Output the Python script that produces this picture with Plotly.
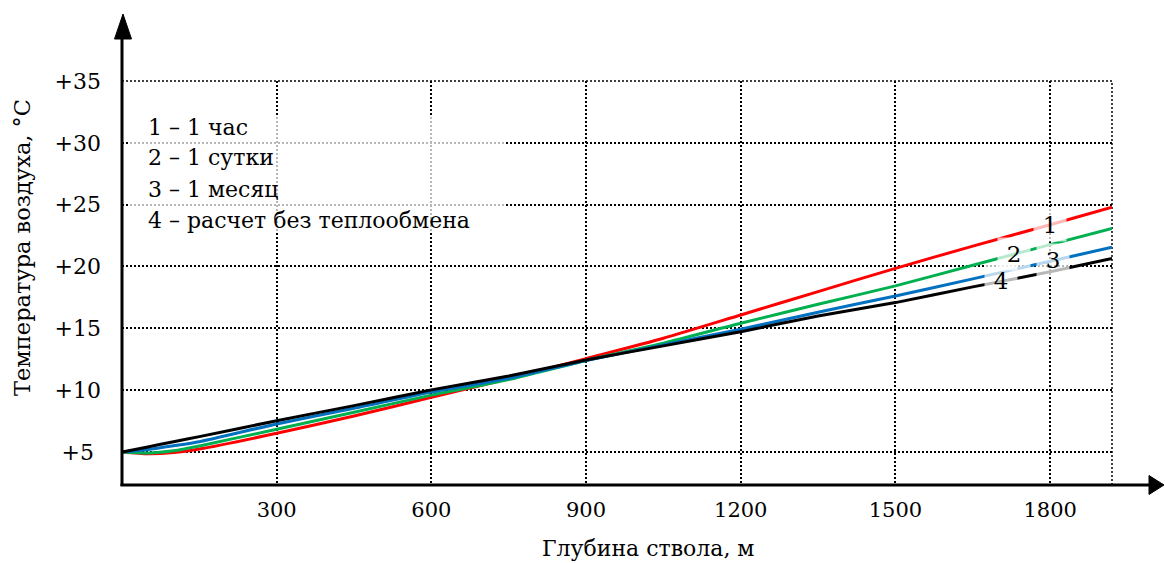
import numpy as np
import plotly.graph_objects as go

# ---- data ----
depth = [0, 50, 100, 150, 300, 450, 600, 750, 900, 1050, 1200, 1350, 1500, 1650, 1800, 1920]
t_1h = [5.0, 4.85, 4.95, 5.24, 6.51, 7.91, 9.42, 10.92, 12.55, 14.2, 16.08, 17.97, 19.85, 21.65, 23.38, 24.8]
t_1d = [5.0, 4.92, 5.1, 5.49, 6.84, 8.21, 9.6, 10.85, 12.4, 13.8, 15.41, 16.95, 18.43, 20.1, 21.77, 23.07]
t_1m = [5.0, 5.2, 5.5, 5.83, 7.27, 8.53, 9.85, 10.95, 12.4, 13.66, 14.93, 16.3, 17.62, 19.0, 20.43, 21.55]
t_none = [5.0, 5.41, 5.83, 6.24, 7.53, 8.75, 10.02, 11.15, 12.44, 13.58, 14.73, 16.0, 17.08, 18.35, 19.57, 20.65]

series_names = ["1", "2", "3", "4"]
legend_lines = ["1 – 1 час", "2 – 1 сутки", "3 – 1 месяц", "4 – расчет без теплообмена"]
x_ticks = [300, 600, 900, 1200, 1500, 1800]
y_ticks = [5, 10, 15, 20, 25, 30, 35]
y_ticktext = ["+5\u2008", "+10", "+15", "+20", "+25", "+30", "+35"]
label_depth = [1800, 1730, 1806, 1705]

colors = ["#FF0000", "#00B050", "#0070C0", "#000000"]
FONT = "DejaVu Serif"

fig = go.Figure()
all_series = [t_1h, t_1d, t_1m, t_none]
for name, ys, c in zip(series_names, all_series, colors):
    fig.add_trace(go.Scatter(x=depth, y=ys, mode="lines", name=name,
                             line=dict(color=c, width=3, shape="spline", smoothing=0.6),
                             showlegend=False, hoverinfo="skip"))

# geometry helpers (pixels -> paper)
L, R, T, B = 122, 1112, 81, 485
W, H = R - L, B - T
def px(x): return (x - L) / W
def py(y): return (B - y) / H

fig.update_layout(
    width=1165, height=563,
    margin=dict(l=L, r=1165 - R, t=T, b=563 - B),
    paper_bgcolor="white", plot_bgcolor="white",
    font=dict(family=FONT, color="black"),
    xaxis=dict(range=[0, 1920], tickvals=x_ticks, ticktext=[str(v) for v in x_ticks],
               showgrid=True, gridcolor="black", gridwidth=1.5, griddash="2px,2px",
               zeroline=False, showline=False, ticks="", ticklabelstandoff=10,
               tickfont=dict(family=FONT, size=21, color="black")),
    yaxis=dict(range=[2.33, 35], tickvals=y_ticks, ticktext=y_ticktext,
               showgrid=True, gridcolor="black", gridwidth=1.5, griddash="2px,2px",
               zeroline=False, showline=False, ticks="", ticklabelstandoff=20,
               tickfont=dict(family=FONT, size=22, color="black")),
)

shapes = []
# top & right dotted borders of the grid
shapes.append(dict(type="line", xref="paper", yref="paper", x0=0, x1=1, y0=1, y1=1,
                   line=dict(color="black", width=1.5, dash="2px,2px"), layer="below"))
shapes.append(dict(type="line", xref="paper", yref="paper", x0=1, x1=1, y0=0, y1=1,
                   line=dict(color="black", width=1.5, dash="2px,2px"), layer="below"))
# legend semi-transparent box
shapes.append(dict(type="rect", xref="paper", yref="paper", x0=px(130), x1=px(505),
                   y0=py(232), y1=py(115), fillcolor="rgba(255,255,255,0.72)",
                   line=dict(width=0), layer="above"))
# axes with arrows
shapes.append(dict(type="line", xref="paper", yref="paper", x0=0, x1=0, y0=py(486), y1=py(36),
                   line=dict(color="black", width=3), layer="above"))
shapes.append(dict(type="path", xref="paper", yref="paper",
                   path=f"M {px(114.5)} {py(39)} L {px(131.5)} {py(39)} L {px(123)} {py(14)} Z",
                   fillcolor="black", line=dict(color="black", width=1), layer="above"))
shapes.append(dict(type="line", xref="paper", yref="paper", x0=px(120.5), x1=px(1152), y0=0, y1=0,
                   line=dict(color="black", width=3), layer="above"))
shapes.append(dict(type="path", xref="paper", yref="paper",
                   path=f"M {px(1149)} {py(475.5)} L {px(1149)} {py(494.5)} L {px(1164)} {py(485)} Z",
                   fillcolor="black", line=dict(color="black", width=1), layer="above"))
fig.update_layout(shapes=shapes)

ann = []
# legend text lines
for i, t in enumerate(legend_lines):
    ann.append(dict(xref="paper", yref="paper", x=px(146), y=py(127 + 31 * i), xanchor="left",
                    yanchor="middle", text=t, showarrow=False,
                    font=dict(family=FONT, size=22, color="black")))
# series number labels on the curves
for name, ys, xd in zip(series_names, all_series, label_depth):
    yv = float(np.interp(xd, depth, ys))
    ann.append(dict(x=xd, y=yv, xref="x", yref="y", text=name, showarrow=False,
                    xanchor="center", yanchor="middle", width=30, height=30,
                    bgcolor="rgba(255,255,255,0.72)",
                    font=dict(family=FONT, size=23, color="black")))
# axis titles
ann.append(dict(xref="paper", yref="paper", x=px(648), y=py(548), text="Глубина ствола, м",
                showarrow=False, xanchor="center", yanchor="middle",
                font=dict(family=FONT, size=22, color="black")))
ann.append(dict(xref="paper", yref="paper", x=px(22), y=py(248), text="Температура воздуха, °С",
                showarrow=False, xanchor="center", yanchor="middle", textangle=-90,
                font=dict(family=FONT, size=22.5, color="black")))
fig.update_layout(annotations=ann)

fig.write_html("out.html")
